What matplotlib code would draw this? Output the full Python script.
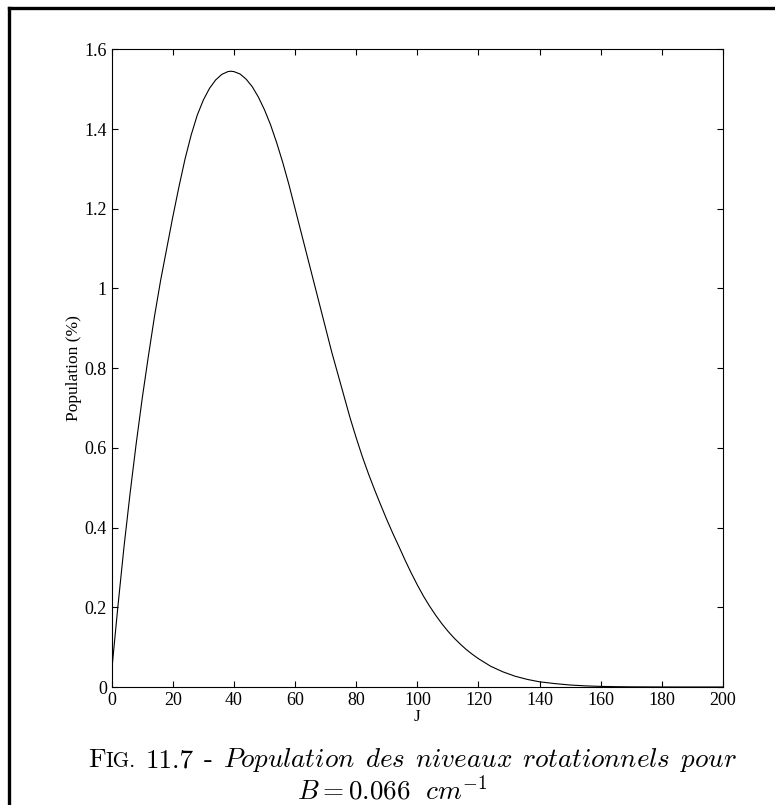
import matplotlib
matplotlib.use("Agg")
import matplotlib.pyplot as plt
from matplotlib.lines import Line2D

plt.rcParams['mathtext.fontset'] = 'cm'

# rotational level J and population (%)
J = [0, 2, 4, 6, 8, 10, 12, 14, 16, 18, 20, 22, 24, 26, 28, 30, 32, 34, 36,
     38, 39, 40, 42, 44, 46, 48, 50, 52, 54, 56, 58, 60, 62, 64, 66, 68, 70,
     72, 74, 76, 78, 80, 82, 84, 86, 88, 90, 92, 94, 96, 98, 100, 102, 104,
     106, 108, 110, 112, 114, 116, 118, 120, 124, 128, 132, 136, 140, 145,
     150, 155, 160, 165, 170, 180, 190, 200]
pop = [0.04, 0.20, 0.35, 0.485, 0.61, 0.725, 0.83, 0.93, 1.02, 1.10, 1.18,
       1.255, 1.325, 1.385, 1.435, 1.473, 1.502, 1.523, 1.537, 1.544, 1.545,
       1.544, 1.538, 1.525, 1.506, 1.48, 1.448, 1.41, 1.365, 1.315, 1.26,
       1.20, 1.14, 1.08, 1.02, 0.96, 0.90, 0.84, 0.785, 0.73, 0.675, 0.625,
       0.578, 0.535, 0.495, 0.457, 0.42, 0.385, 0.352, 0.318, 0.286, 0.256,
       0.228, 0.203, 0.18, 0.159, 0.14, 0.123, 0.108, 0.094, 0.082, 0.071,
       0.052, 0.038, 0.027, 0.019, 0.013, 0.0085, 0.005, 0.0028, 0.0015,
       0.0008, 0.0004, 0.0001, 0.0, 0.0]

xticks = [0, 20, 40, 60, 80, 100, 120, 140, 160, 180, 200]
yticks = [0, 0.2, 0.4, 0.6, 0.8, 1.0, 1.2, 1.4, 1.6]
ylabels = ['0', '0.2', '0.4', '0.6', '0.8', '1', '1.2', '1.4', '1.6']

caption_words = ['11.7', '-', r'$\mathit{Population}$', r'$\mathit{des}$',
                 r'$\mathit{niveaux}$', r'$\mathit{rotationnels}$', r'$\mathit{pour}$']
caption_line2 = r'$B = 0.066\ \ cm^{-1}$'

W, H = 775, 805
fig = plt.figure(figsize=(W / 100, H / 100), dpi=100)
ax = fig.add_axes([111.7 / W, 1 - 687 / H, (723 - 111.7) / W, (687 - 49.3) / H])

ax.plot(J, pop, color='black', linewidth=0.8)
ax.set_xlim(0, 200)
ax.set_ylim(0, 1.6)
ax.set_xticks(xticks)
ax.set_xticklabels([str(t) for t in xticks])
ax.set_yticks(yticks)
ax.set_yticklabels(ylabels)

tfont = 'Liberation Serif'
for lab in ax.get_xticklabels() + ax.get_yticklabels():
    lab.set_family(tfont)
    lab.set_fontsize(13)
ax.tick_params(direction='in', length=4, width=0.8, top=True, right=True, pad=3.5)
for sp in ax.spines.values():
    sp.set_linewidth(0.8)
ax.set_xlabel('J', family=tfont, fontsize=12.5, labelpad=0)
ax.set_ylabel('Population (%)', family=tfont, fontsize=12.5, labelpad=1.5)

# page frame (left and top edges)
fig.add_artist(Line2D([8.5 / W, 8.5 / W], [0, 1 - 8 / H], color='black',
                      linewidth=2.4, transform=fig.transFigure, solid_capstyle='projecting'))
fig.add_artist(Line2D([8.5 / W, 1], [1 - 8.5 / H, 1 - 8.5 / H], color='black',
                      linewidth=2.4, transform=fig.transFigure, solid_capstyle='projecting'))

# caption: first line justified between x0 and x1, "FIG." in small caps
fig.canvas.draw()
r = fig.canvas.get_renderer()
y1 = 1 - 767 / H
x0, x1 = 88, 737
fsz = 19.5
f_big = fig.text(0, y1, 'F', family='cmr10', fontsize=fsz, ha='left', va='baseline')
f_small = fig.text(0, y1, 'IG.', family='cmr10', fontsize=fsz * 0.78, ha='left', va='baseline')
words = [fig.text(0, y1, w, family='cmr10', fontsize=fsz, ha='left', va='baseline')
         for w in caption_words]
wb = f_big.get_window_extent(r).width
ws = f_small.get_window_extent(r).width
ww = [t.get_window_extent(r).width for t in words]
gap = (x1 - x0 - wb - ws - sum(ww)) / len(words)
f_big.set_x(x0 / W)
f_small.set_x((x0 + wb) / W)
x = x0 + wb + ws + gap
for t, w in zip(words, ww):
    t.set_x(x / W)
    x += w + gap

fig.text(392 / W, 1 - 799 / H, caption_line2, ha='center', va='baseline', fontsize=fsz)

fig.savefig('out.png', dpi=100)
